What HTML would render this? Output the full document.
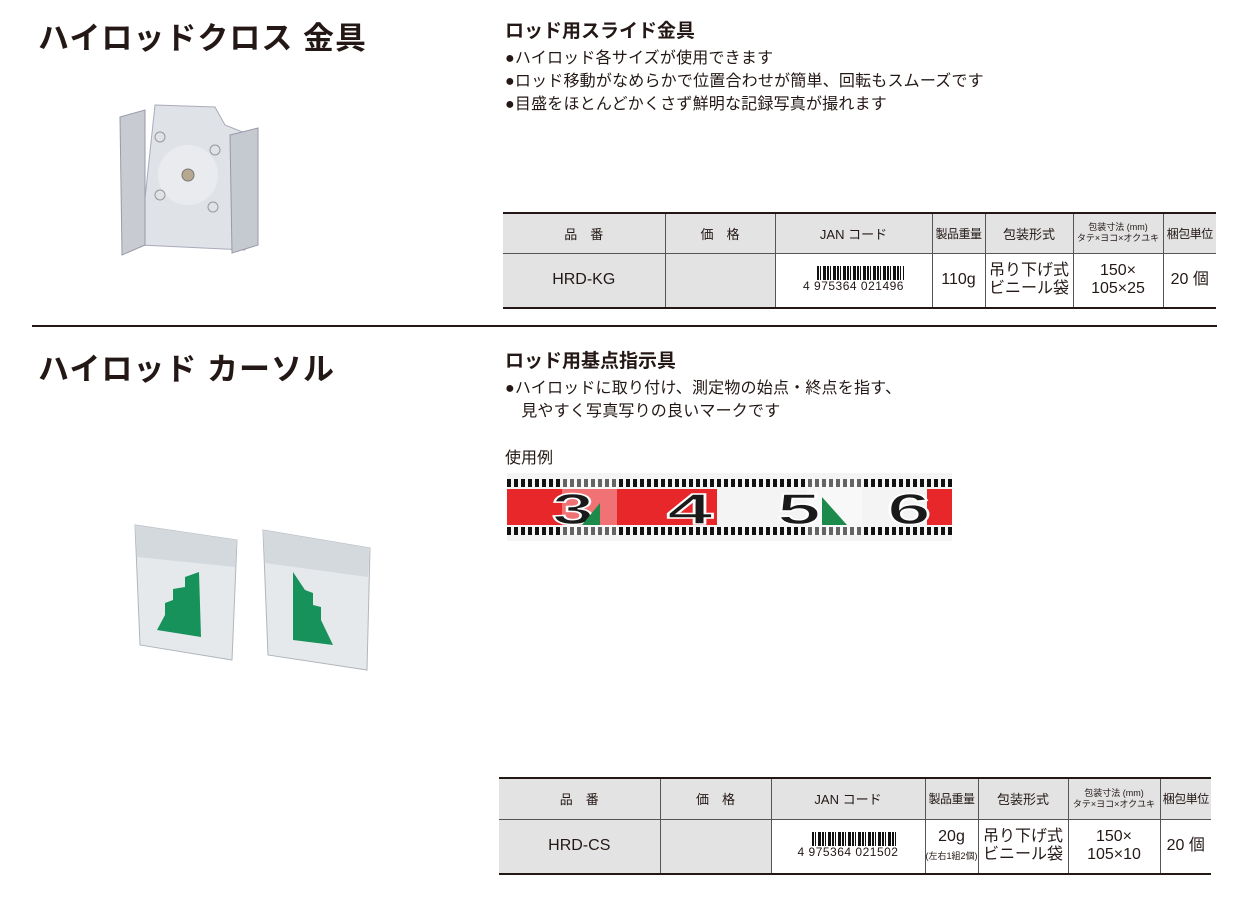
<!DOCTYPE html>
<html><head><meta charset="utf-8">
<style>
*{margin:0;padding:0;box-sizing:border-box}
body{width:1245px;height:913px;background:#fff;position:relative;overflow:hidden;font-family:"Liberation Sans","Noto Sans CJK JP",sans-serif;color:#231815}
.a{position:absolute;white-space:nowrap}
.h1{font-size:31px;font-weight:bold;letter-spacing:1px}
.h2{font-size:19px;font-weight:bold}
.b{font-size:16px;line-height:23px;letter-spacing:0.2px}
table{position:absolute;border-collapse:collapse;font-size:15px;table-layout:fixed}
td{border-left:1px solid #555;text-align:center;vertical-align:middle;padding:0;white-space:nowrap;overflow:hidden}
td:first-child{border-left:none}
tr.hd td{background:#e3e3e4;font-size:13px}
tr.hd td.n{font-size:12px;letter-spacing:-0.5px}
tr.hd{border-bottom:1px solid #555}
tr.dt td{font-size:16px;line-height:18px}
.g{background:#e3e3e4}
.sm{font-size:9px;line-height:11px}
.bc{display:inline-block;font-size:12px;letter-spacing:0.5px;line-height:12px}
.bars{height:14px;margin-left:14px;background:repeating-linear-gradient(90deg,#111 0 2px,#fff 2px 3px,#111 3px 4px,#fff 4px 6px,#111 6px 9px,#fff 9px 10px)}
</style></head><body>

<div class="a h1" style="left:38px;top:13px">ハイロッドクロス 金具</div>
<div class="a h2" style="left:505px;top:16px">ロッド用スライド金具</div>
<div class="a b" style="left:505px;top:47px">●ハイロッド各サイズが使用できます<br>●ロッド移動がなめらかで位置合わせが簡単、回転もスムーズです<br>●目盛をほとんどかくさず鮮明な記録写真が撮れます</div>

<svg class="a" style="left:100px;top:95px" width="180" height="170">
<polygon points="55,10 115,12 125,30 150,40 145,155 40,150" fill="#dfe2e6" stroke="#aab" />
<circle cx="88" cy="80" r="30" fill="#e9ebee"/>
<circle cx="88" cy="80" r="6" fill="#b8a890" stroke="#777"/>
<circle cx="60" cy="42" r="5" fill="none" stroke="#999"/><circle cx="115" cy="55" r="5" fill="none" stroke="#999"/>
<circle cx="60" cy="100" r="5" fill="none" stroke="#999"/><circle cx="113" cy="112" r="5" fill="none" stroke="#999"/>
<polygon points="20,22 45,15 45,150 22,160" fill="#c8ccd2" stroke="#99a"/>
<polygon points="130,40 158,33 158,150 132,158" fill="#c5c9d0" stroke="#99a"/>
</svg>

<div class="a" style="left:32px;top:325px;width:1185px;height:2px;background:#231815"></div>

<table style="left:503px;top:212px;width:713px;border-top:2px solid #231815;border-bottom:2px solid #231815">
<colgroup><col style="width:162px"><col style="width:110px"><col style="width:157px"><col style="width:53px"><col style="width:88px"><col style="width:90px"><col></colgroup>
<tr class="hd" style="height:40px"><td>品　番</td><td>価　格</td><td>JAN コード</td><td class="n">製品重量</td><td>包装形式</td><td><div class="sm">包装寸法 (mm)<br>タテ×ヨコ×オクユキ</div></td><td class="n">梱包単位</td></tr>
<tr class="dt" style="height:55px"><td class="g">HRD-KG</td><td class="g"></td><td><div class="bc"><div class="bars"></div>4 975364 021496</div></td><td>110g</td><td>吊り下げ式<br>ビニール袋</td><td>150×<br>105×25</td><td>20 個</td></tr>
</table>

<div class="a h1" style="left:38px;top:344px">ハイロッド カーソル</div>
<div class="a h2" style="left:505px;top:346px">ロッド用基点指示具</div>
<div class="a b" style="left:505px;top:377px">●ハイロッドに取り付け、測定物の始点・終点を指す、<br>　見やすく写真写りの良いマークです</div>
<div class="a" style="left:505px;top:444px;font-size:16px">使用例</div>

<svg class="a" style="left:507px;top:473px" width="445" height="68">
<defs><pattern id="t" width="7" height="8" patternUnits="userSpaceOnUse"><rect width="4" height="8" fill="#111"/></pattern></defs>
<rect x="0" y="0" width="445" height="68" fill="#f4f4f4"/>
<rect x="0" y="16" width="210" height="36" fill="#e8272a"/>
<rect x="420" y="16" width="25" height="36" fill="#e8272a"/>
<rect x="0" y="6" width="445" height="8" fill="url(#t)"/>
<rect x="0" y="54" width="445" height="8" fill="url(#t)"/>
<rect x="55" y="6" width="55" height="56" fill="#fff" opacity=".35"/>
<rect x="300" y="6" width="55" height="56" fill="#fff" opacity=".35"/>
<g font-size="44" font-weight="900" font-family="Liberation Sans" stroke="#fff" stroke-width="1.5" fill="#1a1a1a">
<text x="45" y="51" textLength="42" lengthAdjust="spacingAndGlyphs">3</text>
<text x="160" y="51" textLength="46" lengthAdjust="spacingAndGlyphs">4</text>
<text x="270" y="51" textLength="44" lengthAdjust="spacingAndGlyphs">5</text>
<text x="380" y="51" textLength="44" lengthAdjust="spacingAndGlyphs">6</text>
</g>
<polygon points="75,52 93,30 93,52" fill="#1c8a4b"/>
<polygon points="315,24 340,52 315,52" fill="#1c8a4b"/>
</svg>

<svg class="a" style="left:125px;top:515px" width="260" height="165">
<polygon points="10,10 112,25 107,145 15,130" fill="#e6e9ec" stroke="#b0b6bc"/>
<polygon points="10,10 112,25 110,52 12,42" fill="#d4d9de"/>
<polygon points="74,57 76,122 32,115 40,100 40,88 48,85 48,74 60,72 60,62" fill="#17925a"/>
<polygon points="138,15 245,33 242,155 143,140" fill="#e6e9ec" stroke="#b0b6bc"/>
<polygon points="138,15 245,33 243,62 140,48" fill="#d4d9de"/>
<polygon points="168,57 180,75 188,78 188,90 196,92 196,105 208,130 168,125" fill="#17925a"/>
</svg>

<table style="left:499px;top:777px;width:712px;border-top:2px solid #231815;border-bottom:2px solid #231815">
<colgroup><col style="width:161px"><col style="width:111px"><col style="width:154px"><col style="width:53px"><col style="width:90px"><col style="width:92px"><col></colgroup>
<tr class="hd" style="height:41px"><td>品　番</td><td>価　格</td><td>JAN コード</td><td class="n">製品重量</td><td>包装形式</td><td><div class="sm">包装寸法 (mm)<br>タテ×ヨコ×オクユキ</div></td><td class="n">梱包単位</td></tr>
<tr class="dt" style="height:55px"><td class="g">HRD-CS</td><td class="g"></td><td><div class="bc"><div class="bars"></div>4 975364 021502</div></td><td>20g<br><span style="font-size:9px">(左右1組2個)</span></td><td>吊り下げ式<br>ビニール袋</td><td>150×<br>105×10</td><td>20 個</td></tr>
</table>

</body></html>
